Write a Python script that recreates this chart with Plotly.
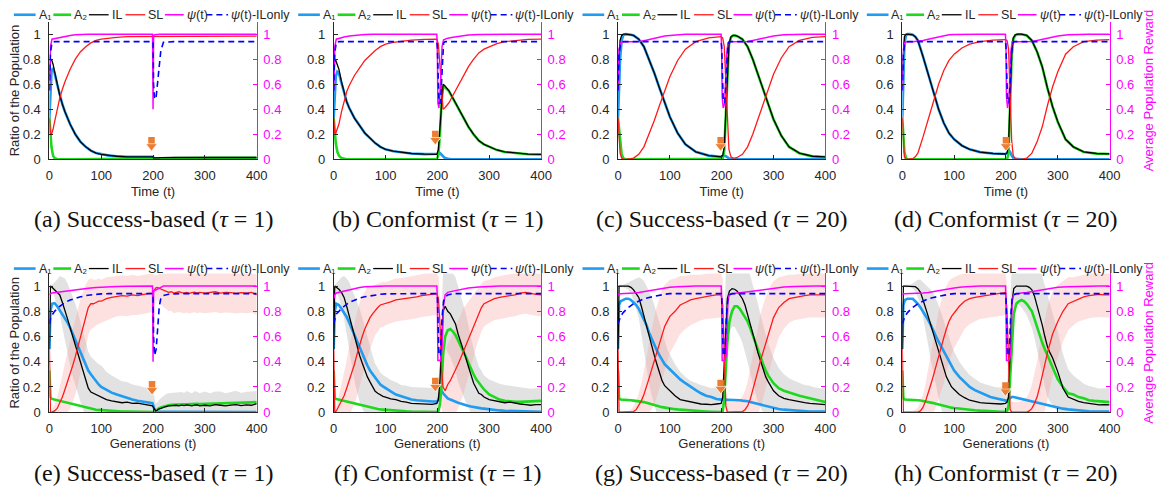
import plotly.graph_objects as go

# ---------------- data ----------------
T_TOP = [0, 2, 4, 7, 10, 15, 20, 25, 30, 40,
         50, 60, 70, 80, 90, 100, 115, 130, 150, 175,
         199, 202, 205, 208, 211, 214, 218, 222, 226, 230,
         240, 250, 260, 270, 280, 290, 300, 315, 330, 350, 375, 400]

T_PSI = [0, 2, 5, 10, 20, 30, 40, 50, 60, 75,
         90, 100, 115, 130, 150, 175, 199, 200, 201, 203,
         206, 209, 212, 215, 220, 230, 240, 250, 260, 280,
         300, 320, 340, 360, 380, 400]

T_BOT = [0, 2, 5, 10, 15, 20, 25, 30, 35, 40,
         45, 50, 55, 60, 65, 70, 75, 80, 85, 90,
         95, 100, 110, 120, 130, 140, 150, 160, 170, 180,
         190, 199, 202, 205, 208, 211, 215, 220, 225, 230,
         235, 240, 245, 250, 255, 260, 265, 270, 275, 280,
         285, 290, 300, 310, 320, 330, 340, 350, 360, 370,
         380, 390, 400]

# (a) Success-based tau=1, replicator
A1_A = [0.33, 0.58, 0.70, 0.73, 0.69, 0.60, 0.51, 0.44, 0.38, 0.28,
        0.20, 0.14, 0.10, 0.07, 0.05, 0.04, 0.03, 0.025, 0.02, 0.02,
        0.02, 0.01, 0.008, 0.007, 0.006, 0.005, 0.005, 0.004, 0.004, 0.004,
        0.004, 0.003, 0.003, 0.003, 0.003, 0.003, 0.002, 0.002, 0.002, 0.002, 0.002, 0.002]
A2_A = [0.33, 0.21, 0.10, 0.03, 0.01, 0.003, 0.0, 0.0, 0.0, 0.0,
        0.0, 0.0, 0.0, 0.0, 0.0, 0.0, 0.0, 0.0, 0.0, 0.0,
        0.0, 0.002, 0.003, 0.005, 0.006, 0.007, 0.008, 0.009, 0.01, 0.01,
        0.01, 0.011, 0.011, 0.012, 0.012, 0.012, 0.012, 0.012, 0.012, 0.012, 0.012, 0.012]
IL_A = [0.67, 0.79, 0.80, 0.76, 0.70, 0.60, 0.51, 0.44, 0.38, 0.28,
        0.20, 0.14, 0.10, 0.07, 0.05, 0.04, 0.03, 0.025, 0.02, 0.02,
        0.02, 0.012, 0.011, 0.012, 0.013, 0.014, 0.015, 0.015, 0.015, 0.015,
        0.015, 0.015, 0.015, 0.015, 0.015, 0.015, 0.015, 0.015, 0.015, 0.015, 0.015, 0.015]
SL_A = [0.33, 0.21, 0.20, 0.24, 0.30, 0.40, 0.49, 0.56, 0.62, 0.72,
        0.80, 0.86, 0.90, 0.93, 0.95, 0.96, 0.97, 0.975, 0.98, 0.98,
        0.98, 0.985, 0.985, 0.985, 0.985, 0.985, 0.985, 0.985, 0.985, 0.985,
        0.985, 0.985, 0.985, 0.985, 0.985, 0.985, 0.985, 0.985, 0.985, 0.985, 0.985, 0.985]
PSI_A = [0.55, 0.90, 0.96, 0.965, 0.975, 0.985, 0.99, 0.995, 0.998, 1.0,
         1.0, 1.0, 1.0, 1.0, 1.0, 1.0, 1.0, 0.40, 0.99, 0.995,
         0.998, 1.0, 1.0, 1.0, 1.0, 1.0, 1.0, 1.0, 1.0, 1.0,
         1.0, 1.0, 1.0, 1.0, 1.0, 1.0]
PSIIL_A = [0.55, 0.85, 0.935, 0.94, 0.94, 0.94, 0.94, 0.94, 0.94, 0.94,
           0.94, 0.94, 0.94, 0.94, 0.94, 0.94, 0.94, 0.94, 0.60, 0.48,
           0.50, 0.62, 0.76, 0.87, 0.935, 0.94, 0.94, 0.94, 0.94, 0.94,
           0.94, 0.94, 0.94, 0.94, 0.94, 0.94]

# (b) Conformist tau=1, replicator
A1_B = [0.33, 0.58, 0.66, 0.70, 0.69, 0.61, 0.53, 0.46, 0.41, 0.33,
        0.27, 0.21, 0.17, 0.13, 0.10, 0.08, 0.065, 0.055, 0.047, 0.042,
        0.04, 0.045, 0.05, 0.04, 0.025, 0.012, 0.006, 0.003, 0.002, 0.002,
        0.002, 0.001, 0.001, 0.001, 0.001, 0.001, 0.001, 0.001, 0.001, 0.001, 0.001, 0.001]
A2_B = [0.33, 0.21, 0.13, 0.06, 0.03, 0.01, 0.003, 0.0, 0.0, 0.0,
        0.0, 0.0, 0.0, 0.0, 0.0, 0.0, 0.0, 0.0, 0.0, 0.0,
        0.0, 0.035, 0.20, 0.46, 0.575, 0.578, 0.564, 0.547, 0.518, 0.488,
        0.408, 0.329, 0.259, 0.199, 0.149, 0.119, 0.099, 0.074, 0.059, 0.049, 0.041, 0.039]
IL_B = [0.67, 0.79, 0.79, 0.76, 0.72, 0.62, 0.53, 0.46, 0.41, 0.33,
        0.27, 0.21, 0.17, 0.13, 0.10, 0.08, 0.065, 0.055, 0.047, 0.042,
        0.04, 0.08, 0.25, 0.50, 0.60, 0.59, 0.57, 0.55, 0.52, 0.49,
        0.41, 0.33, 0.26, 0.20, 0.15, 0.12, 0.10, 0.075, 0.06, 0.05, 0.042, 0.04]
SL_B = [0.33, 0.21, 0.21, 0.24, 0.28, 0.38, 0.47, 0.54, 0.59, 0.67,
        0.73, 0.79, 0.83, 0.87, 0.90, 0.92, 0.935, 0.945, 0.953, 0.958,
        0.96, 0.92, 0.75, 0.50, 0.40, 0.41, 0.43, 0.45, 0.48, 0.51,
        0.59, 0.67, 0.74, 0.80, 0.85, 0.88, 0.90, 0.925, 0.94, 0.95, 0.958, 0.96]
PSI_B = [0.55, 0.90, 0.96, 0.968, 0.978, 0.985, 0.99, 0.994, 0.997, 0.999,
         1.0, 1.0, 1.0, 1.0, 1.0, 1.0, 1.0, 0.85, 0.45, 0.41,
         0.60, 0.90, 0.955, 0.962, 0.968, 0.975, 0.983, 0.99, 0.994, 0.998,
         1.0, 1.0, 1.0, 1.0, 1.0, 1.0]
PSIIL_B = [0.55, 0.85, 0.935, 0.94, 0.94, 0.94, 0.94, 0.94, 0.94, 0.94,
           0.94, 0.94, 0.94, 0.94, 0.94, 0.94, 0.94, 0.90, 0.70, 0.45,
           0.45, 0.75, 0.93, 0.94, 0.94, 0.94, 0.94, 0.94, 0.94, 0.94,
           0.94, 0.94, 0.94, 0.94, 0.94, 0.94]

# (c) Success-based tau=20, replicator
A1_C = [0.33, 0.60, 0.80, 0.95, 0.99, 1.0, 1.0, 0.995, 0.99, 0.96,
        0.90, 0.80, 0.69, 0.57, 0.45, 0.34, 0.21, 0.12, 0.06, 0.03,
        0.02, 0.025, 0.03, 0.025, 0.015, 0.008, 0.004, 0.002, 0.002, 0.001,
        0.001, 0.001, 0.001, 0.001, 0.001, 0.001, 0.001, 0.001, 0.001, 0.001, 0.001, 0.001]
A2_C = [0.33, 0.25, 0.15, 0.04, 0.01, 0.0, 0.0, 0.0, 0.0, 0.0,
        0.0, 0.0, 0.0, 0.0, 0.0, 0.0, 0.0, 0.0, 0.0, 0.0,
        0.0, 0.005, 0.07, 0.375, 0.735, 0.912, 0.976, 0.988, 0.988, 0.984,
        0.959, 0.899, 0.799, 0.679, 0.549, 0.429, 0.319, 0.189, 0.099, 0.049, 0.024, 0.019]
IL_C = [0.67, 0.85, 0.95, 0.99, 1.0, 1.0, 1.0, 0.995, 0.99, 0.96,
        0.90, 0.80, 0.69, 0.57, 0.45, 0.34, 0.21, 0.12, 0.06, 0.03,
        0.02, 0.03, 0.10, 0.40, 0.75, 0.92, 0.98, 0.99, 0.99, 0.985,
        0.96, 0.90, 0.80, 0.68, 0.55, 0.43, 0.32, 0.19, 0.10, 0.05, 0.025, 0.02]
SL_C = [0.33, 0.15, 0.05, 0.01, 0.0, 0.0, 0.0, 0.005, 0.01, 0.04,
        0.10, 0.20, 0.31, 0.43, 0.55, 0.66, 0.79, 0.88, 0.94, 0.97,
        0.98, 0.97, 0.90, 0.60, 0.25, 0.08, 0.02, 0.01, 0.01, 0.015,
        0.04, 0.10, 0.20, 0.32, 0.45, 0.57, 0.68, 0.81, 0.90, 0.95, 0.975, 0.98]
PSI_C = [0.55, 0.88, 0.93, 0.94, 0.94, 0.94, 0.942, 0.948, 0.958, 0.972,
         0.985, 0.99, 0.996, 0.999, 1.0, 1.0, 1.0, 0.85, 0.50, 0.41,
         0.45, 0.80, 0.93, 0.94, 0.94, 0.94, 0.94, 0.942, 0.95, 0.97,
         0.985, 0.995, 0.999, 1.0, 1.0, 1.0]
PSIIL_C = [0.55, 0.85, 0.93, 0.94, 0.94, 0.94, 0.94, 0.94, 0.94, 0.94,
           0.94, 0.94, 0.94, 0.94, 0.94, 0.94, 0.94, 0.90, 0.70, 0.47,
           0.45, 0.75, 0.92, 0.94, 0.94, 0.94, 0.94, 0.94, 0.94, 0.94,
           0.94, 0.94, 0.94, 0.94, 0.94, 0.94]

# (d) Conformist tau=20, replicator
A1_D = [0.33, 0.70, 0.92, 0.99, 1.0, 1.0, 0.995, 0.98, 0.95, 0.82,
        0.67, 0.54, 0.40, 0.29, 0.21, 0.16, 0.11, 0.08, 0.058, 0.047,
        0.043, 0.05, 0.075, 0.06, 0.03, 0.012, 0.004, 0.002, 0.001, 0.001,
        0.001, 0.001, 0.001, 0.001, 0.001, 0.001, 0.001, 0.001, 0.001, 0.001, 0.001, 0.001]
A2_D = [0.33, 0.18, 0.06, 0.01, 0.0, 0.0, 0.0, 0.0, 0.0, 0.0,
        0.0, 0.0, 0.0, 0.0, 0.0, 0.0, 0.0, 0.0, 0.0, 0.0,
        0.0, 0.0, 0.045, 0.39, 0.82, 0.958, 0.991, 0.998, 0.999, 0.999,
        0.989, 0.949, 0.859, 0.739, 0.569, 0.419, 0.299, 0.159, 0.099, 0.059, 0.046, 0.043]
IL_D = [0.67, 0.88, 0.98, 1.0, 1.0, 1.0, 0.995, 0.98, 0.95, 0.82,
        0.67, 0.54, 0.40, 0.29, 0.21, 0.16, 0.11, 0.08, 0.058, 0.047,
        0.043, 0.05, 0.12, 0.45, 0.85, 0.97, 0.995, 1.0, 1.0, 1.0,
        0.99, 0.95, 0.86, 0.74, 0.57, 0.42, 0.30, 0.16, 0.10, 0.06, 0.047, 0.044]
SL_D = [0.33, 0.12, 0.02, 0.0, 0.0, 0.0, 0.005, 0.02, 0.05, 0.18,
        0.33, 0.46, 0.60, 0.71, 0.79, 0.84, 0.89, 0.92, 0.94, 0.952,
        0.957, 0.95, 0.88, 0.55, 0.15, 0.03, 0.005, 0.0, 0.0, 0.0,
        0.01, 0.05, 0.14, 0.26, 0.43, 0.58, 0.70, 0.84, 0.90, 0.94, 0.953, 0.956]
PSI_D = [0.55, 0.88, 0.935, 0.94, 0.94, 0.942, 0.95, 0.96, 0.97, 0.985,
         0.995, 0.998, 1.0, 1.0, 1.0, 1.0, 1.0, 0.90, 0.50, 0.41,
         0.50, 0.85, 0.94, 0.94, 0.94, 0.94, 0.94, 0.942, 0.95, 0.968,
         0.985, 0.995, 1.0, 1.0, 1.0, 1.0]
PSIIL_D = [0.55, 0.85, 0.93, 0.94, 0.94, 0.94, 0.94, 0.94, 0.94, 0.94,
           0.94, 0.94, 0.94, 0.94, 0.94, 0.94, 0.94, 0.90, 0.70, 0.47,
           0.45, 0.75, 0.92, 0.94, 0.94, 0.94, 0.94, 0.94, 0.94, 0.94,
           0.94, 0.94, 0.94, 0.94, 0.94, 0.94]

# (e) Success-based tau=1, simulation
A1_E = [0.50, 0.80, 0.86, 0.865, 0.84, 0.81, 0.78, 0.75, 0.71, 0.67,
        0.62, 0.57, 0.52, 0.47, 0.42, 0.37, 0.33, 0.30, 0.27, 0.24,
        0.22, 0.20, 0.175, 0.155, 0.14, 0.125, 0.115, 0.10, 0.09, 0.085,
        0.078, 0.072, 0.03, 0.01, 0.005, 0.004, 0.004, 0.003, 0.003, 0.003,
        0.003, 0.003, 0.003, 0.003, 0.002, 0.002, 0.002, 0.002, 0.002, 0.002,
        0.002, 0.002, 0.002, 0.002, 0.002, 0.002, 0.002, 0.002, 0.002, 0.002,
        0.002, 0.002, 0.002]
A2_E = [0.33, 0.12, 0.105, 0.10, 0.095, 0.09, 0.085, 0.08, 0.075, 0.068,
        0.062, 0.055, 0.05, 0.045, 0.04, 0.035, 0.03, 0.027, 0.024, 0.02,
        0.018, 0.016, 0.012, 0.01, 0.008, 0.006, 0.005, 0.004, 0.003, 0.002,
        0.002, 0.001, 0.002, 0.008, 0.02, 0.03, 0.038, 0.045, 0.05, 0.055,
        0.058, 0.06, 0.062, 0.062, 0.063, 0.062, 0.063, 0.065, 0.064, 0.065,
        0.066, 0.065, 0.066, 0.068, 0.067, 0.068, 0.07, 0.07, 0.072, 0.07,
        0.075, 0.078, 0.08]
IL_E = [0.50, 1.0, 0.99, 0.97, 0.95, 0.93, 0.87, 0.81, 0.74, 0.67,
        0.60, 0.54, 0.47, 0.40, 0.33, 0.26, 0.19, 0.16, 0.15, 0.14,
        0.125, 0.12, 0.10, 0.09, 0.085, 0.075, 0.08, 0.07, 0.072, 0.065,
        0.06, 0.05, 0.03, 0.01, 0.015, 0.025, 0.03, 0.04, 0.045, 0.05,
        0.052, 0.048, 0.055, 0.05, 0.056, 0.052, 0.058, 0.054, 0.05, 0.056,
        0.058, 0.05, 0.055, 0.05, 0.06, 0.055, 0.05, 0.056, 0.06, 0.052,
        0.058, 0.055, 0.068]
SL_E = [0.50, 0.0, 0.0, 0.01, 0.03, 0.07, 0.12, 0.18, 0.24, 0.30,
        0.37, 0.44, 0.52, 0.60, 0.68, 0.76, 0.83, 0.86, 0.86, 0.87,
        0.88, 0.88, 0.90, 0.91, 0.92, 0.925, 0.92, 0.93, 0.925, 0.935,
        0.94, 0.945, 0.97, 0.985, 0.99, 0.985, 0.975, 0.965, 0.96, 0.95,
        0.955, 0.945, 0.95, 0.955, 0.948, 0.945, 0.95, 0.942, 0.948, 0.952,
        0.945, 0.95, 0.945, 0.948, 0.955, 0.945, 0.95, 0.948, 0.942, 0.948,
        0.944, 0.95, 0.93]
SD_IL_E = [0.0, 0.01, 0.02, 0.06, 0.10, 0.15, 0.20, 0.25, 0.28, 0.30,
           0.32, 0.32, 0.32, 0.32, 0.31, 0.30, 0.29, 0.28, 0.27, 0.26,
           0.255, 0.25, 0.22, 0.20, 0.18, 0.17, 0.16, 0.15, 0.14, 0.135,
           0.13, 0.13, 0.10, 0.06, 0.06, 0.07, 0.08, 0.09, 0.10, 0.10,
           0.10, 0.105, 0.10, 0.11, 0.105, 0.10, 0.11, 0.105, 0.10, 0.11,
           0.105, 0.10, 0.11, 0.10, 0.105, 0.11, 0.10, 0.105, 0.11, 0.10,
           0.105, 0.11, 0.10]
SD_SL_E = [0.0, 0.01, 0.02, 0.05, 0.09, 0.13, 0.17, 0.21, 0.24, 0.27,
           0.29, 0.30, 0.30, 0.30, 0.28, 0.25, 0.22, 0.20, 0.19, 0.18,
           0.18, 0.17, 0.17, 0.165, 0.16, 0.16, 0.16, 0.16, 0.155, 0.155,
           0.155, 0.15, 0.12, 0.10, 0.10, 0.11, 0.12, 0.13, 0.14, 0.15,
           0.15, 0.16, 0.16, 0.16, 0.16, 0.16, 0.16, 0.16, 0.16, 0.16,
           0.16, 0.16, 0.16, 0.16, 0.16, 0.16, 0.16, 0.16, 0.16, 0.16,
           0.16, 0.16, 0.16]
PSI_E = [0.93, 0.94, 0.945, 0.948, 0.955, 0.96, 0.966, 0.972, 0.977, 0.983,
         0.988, 0.991, 0.994, 0.997, 0.999, 1.0, 1.0, 0.40, 0.96, 0.965,
         0.97, 0.975, 0.98, 0.99, 1.0, 1.0, 1.0, 1.0, 1.0, 1.0,
         1.0, 1.0, 1.0, 1.0, 1.0, 1.0]
PSIIL_E = [0.70, 0.74, 0.77, 0.80, 0.84, 0.87, 0.89, 0.905, 0.915, 0.928,
           0.935, 0.938, 0.94, 0.94, 0.94, 0.94, 0.94, 0.94, 0.60, 0.45,
           0.50, 0.70, 0.84, 0.90, 0.925, 0.935, 0.94, 0.94, 0.94, 0.94,
           0.94, 0.94, 0.94, 0.94, 0.94, 0.94]

# (f) Conformist tau=1, simulation
A1_F = [0.50, 0.80, 0.86, 0.85, 0.82, 0.79, 0.755, 0.71, 0.66, 0.61,
        0.56, 0.51, 0.46, 0.41, 0.37, 0.33, 0.30, 0.27, 0.24, 0.22,
        0.205, 0.19, 0.165, 0.14, 0.125, 0.11, 0.10, 0.095, 0.09, 0.085,
        0.085, 0.085, 0.10, 0.15, 0.17, 0.15, 0.13, 0.11, 0.10, 0.09,
        0.08, 0.075, 0.068, 0.06, 0.055, 0.05, 0.045, 0.04, 0.037, 0.034,
        0.03, 0.028, 0.022, 0.018, 0.014, 0.011, 0.009, 0.007, 0.005, 0.004,
        0.003, 0.003, 0.003]
A2_F = [0.33, 0.11, 0.105, 0.10, 0.095, 0.09, 0.085, 0.08, 0.075, 0.07,
        0.063, 0.055, 0.05, 0.045, 0.04, 0.036, 0.032, 0.028, 0.025, 0.022,
        0.02, 0.018, 0.014, 0.012, 0.009, 0.007, 0.005, 0.004, 0.003, 0.002,
        0.002, 0.002, 0.01, 0.06, 0.20, 0.45, 0.60, 0.65, 0.66, 0.64,
        0.61, 0.57, 0.53, 0.49, 0.44, 0.39, 0.34, 0.30, 0.26, 0.23,
        0.20, 0.18, 0.14, 0.12, 0.10, 0.09, 0.085, 0.083, 0.082, 0.085,
        0.087, 0.09, 0.09]
IL_F = [0.50, 1.0, 0.99, 0.975, 0.95, 0.91, 0.84, 0.76, 0.67, 0.59,
        0.52, 0.45, 0.39, 0.33, 0.28, 0.24, 0.20, 0.165, 0.15, 0.135,
        0.125, 0.12, 0.105, 0.10, 0.085, 0.08, 0.07, 0.068, 0.065, 0.06,
        0.062, 0.07, 0.10, 0.25, 0.60, 0.80, 0.84, 0.80, 0.78, 0.74,
        0.70, 0.62, 0.56, 0.50, 0.43, 0.36, 0.29, 0.23, 0.19, 0.15,
        0.14, 0.12, 0.10, 0.09, 0.085, 0.075, 0.08, 0.07, 0.065, 0.06,
        0.055, 0.06, 0.06]
SL_F = [0.50, 0.0, 0.01, 0.05, 0.09, 0.13, 0.19, 0.25, 0.32, 0.38,
        0.46, 0.54, 0.60, 0.66, 0.71, 0.75, 0.78, 0.81, 0.83, 0.85,
        0.855, 0.86, 0.875, 0.89, 0.895, 0.90, 0.91, 0.915, 0.925, 0.93,
        0.935, 0.94, 0.90, 0.70, 0.35, 0.20, 0.17, 0.22, 0.25, 0.29,
        0.33, 0.38, 0.43, 0.48, 0.53, 0.58, 0.64, 0.69, 0.74, 0.79,
        0.83, 0.86, 0.88, 0.90, 0.91, 0.92, 0.925, 0.93, 0.945, 0.95,
        0.94, 0.935, 0.93]
SD_IL_F = [0.0, 0.01, 0.03, 0.07, 0.12, 0.17, 0.22, 0.27, 0.31, 0.34,
           0.36, 0.37, 0.36, 0.34, 0.31, 0.28, 0.25, 0.22, 0.20, 0.18,
           0.17, 0.16, 0.15, 0.14, 0.13, 0.13, 0.13, 0.13, 0.13, 0.13,
           0.13, 0.13, 0.15, 0.20, 0.25, 0.30, 0.32, 0.33, 0.34, 0.36,
           0.37, 0.38, 0.38, 0.37, 0.35, 0.33, 0.30, 0.27, 0.24, 0.21,
           0.19, 0.17, 0.16, 0.15, 0.14, 0.14, 0.13, 0.13, 0.13, 0.13,
           0.13, 0.13, 0.13]
SD_SL_F = [0.0, 0.01, 0.03, 0.08, 0.12, 0.17, 0.22, 0.27, 0.30, 0.32,
           0.33, 0.33, 0.32, 0.30, 0.28, 0.25, 0.22, 0.20, 0.19, 0.18,
           0.18, 0.17, 0.17, 0.17, 0.17, 0.17, 0.17, 0.17, 0.17, 0.17,
           0.17, 0.17, 0.18, 0.20, 0.25, 0.28, 0.30, 0.32, 0.33, 0.34,
           0.35, 0.35, 0.35, 0.34, 0.32, 0.30, 0.27, 0.25, 0.22, 0.20,
           0.19, 0.18, 0.17, 0.17, 0.17, 0.17, 0.17, 0.17, 0.17, 0.17,
           0.17, 0.17, 0.17]
PSI_F = [0.90, 0.93, 0.945, 0.95, 0.96, 0.97, 0.98, 0.988, 0.994, 0.998,
         1.0, 1.0, 1.0, 1.0, 1.0, 1.0, 1.0, 0.90, 0.41, 0.41,
         0.41, 0.50, 0.85, 0.93, 0.95, 0.96, 0.97, 0.978, 0.985, 0.993,
         0.998, 1.0, 1.0, 1.0, 1.0, 1.0]
PSIIL_F = [0.70, 0.74, 0.78, 0.80, 0.84, 0.87, 0.89, 0.905, 0.915, 0.928,
           0.935, 0.938, 0.94, 0.94, 0.94, 0.94, 0.94, 0.92, 0.70, 0.45,
           0.45, 0.75, 0.88, 0.91, 0.93, 0.94, 0.94, 0.94, 0.94, 0.94,
           0.94, 0.94, 0.94, 0.94, 0.94, 0.94]

# (g) Success-based tau=20, simulation
A1_G = [0.50, 0.85, 0.88, 0.89, 0.90, 0.90, 0.89, 0.87, 0.85, 0.82,
        0.78, 0.74, 0.69, 0.63, 0.58, 0.53, 0.49, 0.45, 0.41, 0.38,
        0.36, 0.34, 0.30, 0.26, 0.23, 0.20, 0.175, 0.15, 0.13, 0.12,
        0.105, 0.10, 0.10, 0.10, 0.10, 0.10, 0.10, 0.10, 0.098, 0.097,
        0.095, 0.092, 0.09, 0.087, 0.08, 0.075, 0.068, 0.06, 0.055, 0.05,
        0.045, 0.04, 0.032, 0.025, 0.02, 0.016, 0.012, 0.01, 0.008, 0.006,
        0.005, 0.005, 0.005]
A2_G = [0.33, 0.11, 0.10, 0.10, 0.10, 0.098, 0.095, 0.092, 0.09, 0.087,
        0.084, 0.08, 0.075, 0.068, 0.062, 0.057, 0.05, 0.045, 0.04, 0.036,
        0.033, 0.03, 0.024, 0.02, 0.016, 0.012, 0.01, 0.008, 0.006, 0.004,
        0.003, 0.002, 0.01, 0.10, 0.35, 0.55, 0.72, 0.80, 0.84, 0.84,
        0.82, 0.79, 0.76, 0.72, 0.67, 0.61, 0.55, 0.49, 0.44, 0.38,
        0.33, 0.29, 0.23, 0.19, 0.17, 0.155, 0.145, 0.13, 0.12, 0.11,
        0.095, 0.085, 0.08]
IL_G = [0.50, 1.0, 1.0, 1.0, 1.0, 1.0, 0.99, 0.97, 0.94, 0.91,
        0.84, 0.76, 0.67, 0.59, 0.52, 0.45, 0.38, 0.31, 0.25, 0.21,
        0.19, 0.17, 0.13, 0.10, 0.09, 0.08, 0.07, 0.065, 0.063, 0.06,
        0.065, 0.07, 0.12, 0.40, 0.75, 0.90, 0.96, 0.98, 0.975, 0.96,
        0.93, 0.90, 0.85, 0.78, 0.70, 0.62, 0.55, 0.47, 0.40, 0.34,
        0.28, 0.24, 0.17, 0.13, 0.11, 0.10, 0.09, 0.08, 0.075, 0.07,
        0.065, 0.06, 0.06]
SL_G = [0.50, 0.0, 0.0, 0.0, 0.0, 0.0, 0.0, 0.005, 0.02, 0.05,
        0.09, 0.14, 0.20, 0.27, 0.34, 0.41, 0.48, 0.55, 0.62, 0.68,
        0.72, 0.76, 0.80, 0.85, 0.87, 0.89, 0.90, 0.91, 0.92, 0.925,
        0.93, 0.93, 0.85, 0.40, 0.05, 0.0, 0.0, 0.0, 0.0, 0.0,
        0.0, 0.005, 0.02, 0.05, 0.10, 0.17, 0.25, 0.33, 0.41, 0.48,
        0.55, 0.63, 0.75, 0.83, 0.87, 0.90, 0.91, 0.92, 0.925, 0.93,
        0.93, 0.925, 0.93]
SD_IL_G = [0.0, 0.005, 0.01, 0.01, 0.02, 0.03, 0.05, 0.08, 0.12, 0.16,
           0.22, 0.28, 0.33, 0.37, 0.39, 0.40, 0.40, 0.39, 0.37, 0.34,
           0.31, 0.29, 0.25, 0.22, 0.19, 0.17, 0.16, 0.15, 0.14, 0.13,
           0.13, 0.13, 0.15, 0.30, 0.35, 0.35, 0.33, 0.30, 0.30, 0.32,
           0.33, 0.35, 0.37, 0.38, 0.39, 0.40, 0.40, 0.39, 0.37, 0.35,
           0.33, 0.30, 0.26, 0.22, 0.19, 0.17, 0.16, 0.15, 0.14, 0.14,
           0.13, 0.13, 0.13]
SD_SL_G = [0.0, 0.005, 0.005, 0.005, 0.01, 0.01, 0.02, 0.04, 0.07, 0.10,
           0.14, 0.18, 0.23, 0.28, 0.32, 0.35, 0.36, 0.36, 0.35, 0.33,
           0.31, 0.29, 0.26, 0.23, 0.21, 0.20, 0.19, 0.18, 0.18, 0.18,
           0.18, 0.18, 0.20, 0.25, 0.15, 0.10, 0.08, 0.08, 0.08, 0.09,
           0.10, 0.12, 0.15, 0.19, 0.24, 0.28, 0.32, 0.35, 0.37, 0.37,
           0.36, 0.34, 0.29, 0.24, 0.21, 0.19, 0.18, 0.18, 0.18, 0.18,
           0.18, 0.18, 0.18]
PSI_G = [0.93, 0.94, 0.94, 0.94, 0.942, 0.945, 0.95, 0.957, 0.965, 0.975,
         0.985, 0.99, 0.995, 0.998, 1.0, 1.0, 1.0, 0.90, 0.41, 0.41,
         0.41, 0.45, 0.88, 0.935, 0.94, 0.945, 0.95, 0.955, 0.962, 0.975,
         0.985, 0.992, 0.997, 1.0, 1.0, 1.0]
PSIIL_G = [0.70, 0.73, 0.76, 0.79, 0.83, 0.86, 0.88, 0.90, 0.91, 0.925,
           0.935, 0.94, 0.94, 0.94, 0.94, 0.94, 0.94, 0.92, 0.70, 0.45,
           0.45, 0.75, 0.90, 0.93, 0.94, 0.94, 0.94, 0.94, 0.94, 0.94,
           0.94, 0.94, 0.94, 0.94, 0.94, 0.94]

# (h) Conformist tau=20, simulation
A1_H = [0.50, 0.85, 0.89, 0.90, 0.90, 0.90, 0.88, 0.86, 0.83, 0.80,
        0.77, 0.73, 0.69, 0.64, 0.60, 0.56, 0.52, 0.48, 0.44, 0.40,
        0.36, 0.33, 0.28, 0.24, 0.20, 0.175, 0.155, 0.135, 0.12, 0.11,
        0.10, 0.09, 0.09, 0.10, 0.11, 0.12, 0.12, 0.115, 0.11, 0.11,
        0.105, 0.10, 0.095, 0.09, 0.085, 0.08, 0.072, 0.066, 0.06, 0.055,
        0.05, 0.045, 0.035, 0.028, 0.022, 0.017, 0.013, 0.01, 0.008, 0.006,
        0.005, 0.005, 0.005]
A2_H = [0.33, 0.11, 0.10, 0.10, 0.10, 0.10, 0.098, 0.095, 0.093, 0.09,
        0.087, 0.083, 0.078, 0.072, 0.066, 0.06, 0.054, 0.049, 0.045, 0.04,
        0.036, 0.033, 0.027, 0.022, 0.018, 0.015, 0.012, 0.009, 0.007, 0.005,
        0.004, 0.005, 0.01, 0.05, 0.25, 0.50, 0.78, 0.86, 0.88, 0.89,
        0.88, 0.86, 0.83, 0.80, 0.74, 0.67, 0.61, 0.55, 0.50, 0.45,
        0.41, 0.36, 0.26, 0.20, 0.15, 0.14, 0.12, 0.11, 0.095, 0.09,
        0.085, 0.082, 0.08]
IL_H = [0.50, 1.0, 1.0, 1.0, 1.0, 1.0, 0.995, 0.98, 0.95, 0.89,
        0.83, 0.76, 0.69, 0.62, 0.55, 0.48, 0.41, 0.34, 0.28, 0.24,
        0.20, 0.18, 0.14, 0.115, 0.095, 0.085, 0.075, 0.072, 0.07, 0.068,
        0.065, 0.07, 0.08, 0.12, 0.50, 0.85, 0.98, 1.0, 1.0, 1.0,
        1.0, 1.0, 0.99, 0.97, 0.92, 0.85, 0.77, 0.69, 0.60, 0.52,
        0.47, 0.43, 0.32, 0.19, 0.12, 0.10, 0.085, 0.075, 0.068, 0.06,
        0.058, 0.06, 0.058]
SL_H = [0.50, 0.0, 0.0, 0.0, 0.0, 0.0, 0.0, 0.0, 0.01, 0.04,
        0.09, 0.15, 0.22, 0.29, 0.37, 0.45, 0.52, 0.59, 0.66, 0.72,
        0.76, 0.79, 0.84, 0.88, 0.90, 0.91, 0.92, 0.925, 0.93, 0.935,
        0.94, 0.95, 0.80, 0.30, 0.02, 0.0, 0.0, 0.0, 0.0, 0.0,
        0.0, 0.0, 0.01, 0.03, 0.07, 0.12, 0.20, 0.28, 0.38, 0.47,
        0.54, 0.62, 0.72, 0.80, 0.86, 0.88, 0.90, 0.915, 0.925, 0.93,
        0.935, 0.93, 0.93]
SD_IL_H = [0.0, 0.005, 0.01, 0.01, 0.01, 0.02, 0.04, 0.07, 0.10, 0.14,
           0.18, 0.23, 0.28, 0.32, 0.35, 0.37, 0.38, 0.38, 0.37, 0.35,
           0.33, 0.30, 0.26, 0.23, 0.20, 0.18, 0.16, 0.15, 0.14, 0.13,
           0.13, 0.13, 0.15, 0.25, 0.35, 0.30, 0.20, 0.15, 0.15, 0.17,
           0.20, 0.23, 0.27, 0.30, 0.33, 0.36, 0.38, 0.39, 0.40, 0.40,
           0.39, 0.37, 0.32, 0.27, 0.22, 0.19, 0.17, 0.15, 0.14, 0.14,
           0.13, 0.13, 0.13]
SD_SL_H = [0.0, 0.005, 0.005, 0.005, 0.01, 0.01, 0.02, 0.04, 0.07, 0.10,
           0.14, 0.19, 0.24, 0.29, 0.33, 0.35, 0.36, 0.36, 0.34, 0.32,
           0.30, 0.28, 0.25, 0.22, 0.20, 0.19, 0.18, 0.18, 0.18, 0.18,
           0.18, 0.18, 0.20, 0.25, 0.12, 0.08, 0.08, 0.08, 0.08, 0.09,
           0.10, 0.12, 0.15, 0.19, 0.24, 0.28, 0.32, 0.35, 0.37, 0.37,
           0.36, 0.34, 0.29, 0.24, 0.21, 0.19, 0.18, 0.18, 0.18, 0.18,
           0.18, 0.18, 0.18]
PSI_H = [0.93, 0.94, 0.94, 0.94, 0.94, 0.942, 0.945, 0.95, 0.958, 0.97,
         0.98, 0.985, 0.992, 0.997, 1.0, 1.0, 1.0, 0.90, 0.41, 0.41,
         0.41, 0.45, 0.88, 0.935, 0.94, 0.945, 0.95, 0.957, 0.965, 0.98,
         0.99, 0.995, 0.998, 1.0, 1.0, 1.0]
PSIIL_H = [0.70, 0.73, 0.76, 0.79, 0.83, 0.86, 0.88, 0.90, 0.91, 0.925,
           0.935, 0.94, 0.94, 0.94, 0.94, 0.94, 0.94, 0.92, 0.70, 0.45,
           0.45, 0.75, 0.90, 0.93, 0.94, 0.94, 0.94, 0.94, 0.94, 0.94,
           0.94, 0.94, 0.94, 0.94, 0.94, 0.94]

# environment-change markers (orange arrows): time and tip height
ARROW_T = [197, 196, 198, 200, 198, 196, 198, 199]
ARROW_TIP = [0.07, 0.12, 0.07, 0.07, 0.14, 0.165, 0.15, 0.13]

CAPTIONS = ["(a) Success-based (<i>τ</i> = 1)", "(b) Conformist (<i>τ</i> = 1)",
            "(c) Success-based (<i>τ</i> = 20)", "(d) Conformist (<i>τ</i> = 20)",
            "(e) Success-based (<i>τ</i> = 1)", "(f) Conformist (<i>τ</i> = 1)",
            "(g) Success-based (<i>τ</i> = 20)", "(h) Conformist (<i>τ</i> = 20)"]
X_TITLES = ["Time (t)", "Generations (t)"]
Y_TICKS = [0, 0.2, 0.4, 0.6, 0.8, 1]
Y_TICKTEXT = ["0", "0.2", "0.4", "0.6", "0.8", "1"]
X_TICKS = [0, 100, 200, 300, 400]
LEGEND_NAMES = ["A₁", "A₂", "IL", "SL", "<i>ψ</i>(t)", "<i>ψ</i>(t)-ILonly"]

# ---------------- style ----------------
FIG_W, FIG_H = 1169, 492
FONT = "Liberation Sans, Arial, Helvetica, sans-serif"
SERIF = "Liberation Serif, Times New Roman, serif"
TXT = "#262626"
C_A1, C_A2, C_IL, C_SL = "#1f9bf0", "#1ed81e", "#000000", "#ff1a1a"
C_PSI, C_PSIIL, C_ARROW = "#ff00ff", "#0000ff", "#ed7d31"
BAND_IL = "rgba(185,185,185,0.42)"
BAND_SL = "rgba(250,165,165,0.33)"
STYLES = [  # color, width, dash
    (C_A1, 2.6, "solid"), (C_A2, 2.6, "solid"), (C_IL, 1.3, "solid"),
    (C_SL, 1.3, "solid"), (C_PSI, 1.5, "solid"), (C_PSIIL, 1.6, "6px,4px")]
# legend key geometry relative to panel left edge (px): line start, line end
LEG_KEYS = [(-36, -14), (4, 22), (40, 60), (77, 97), (117, 136), (159, 181)]

PANEL_LEFT = [46, 334, 622, 910]
PANEL_W = 210
ROW_TOP = [22, 278]
ROW_BOT = [162, 419]
LEGEND_Y = [15, 273]
CAPTION_Y = [223, 481]
PX_PER_UNIT = 127.5   # vertical pixels per data unit (for the arrow glyph parts)

panels = [
    dict(t=T_TOP, a1=A1_A, a2=A2_A, il=IL_A, sl=SL_A, psi=PSI_A, psiil=PSIIL_A),
    dict(t=T_TOP, a1=A1_B, a2=A2_B, il=IL_B, sl=SL_B, psi=PSI_B, psiil=PSIIL_B),
    dict(t=T_TOP, a1=A1_C, a2=A2_C, il=IL_C, sl=SL_C, psi=PSI_C, psiil=PSIIL_C),
    dict(t=T_TOP, a1=A1_D, a2=A2_D, il=IL_D, sl=SL_D, psi=PSI_D, psiil=PSIIL_D),
    dict(t=T_BOT, a1=A1_E, a2=A2_E, il=IL_E, sl=SL_E, psi=PSI_E, psiil=PSIIL_E, sdil=SD_IL_E, sdsl=SD_SL_E),
    dict(t=T_BOT, a1=A1_F, a2=A2_F, il=IL_F, sl=SL_F, psi=PSI_F, psiil=PSIIL_F, sdil=SD_IL_F, sdsl=SD_SL_F),
    dict(t=T_BOT, a1=A1_G, a2=A2_G, il=IL_G, sl=SL_G, psi=PSI_G, psiil=PSIIL_G, sdil=SD_IL_G, sdsl=SD_SL_G),
    dict(t=T_BOT, a1=A1_H, a2=A2_H, il=IL_H, sl=SL_H, psi=PSI_H, psiil=PSIIL_H, sdil=SD_IL_H, sdsl=SD_SL_H),
]

fig = go.Figure()
layout = {}
annotations = []
shapes = []
axis_font = dict(family=FONT, size=13, color=TXT)

for p, pn in enumerate(panels):
    row, col = divmod(p, 4)
    xn = "" if p == 0 else str(p + 1)
    yln = "" if p == 0 else str(2 * p + 1)
    yrn = str(2 * p + 2)
    xref, ylref, yrref = "x" + xn, "y" + yln, "y" + yrn
    L = PANEL_LEFT[col]
    dom_x = [L / FIG_W, (L + PANEL_W) / FIG_W]
    dom_y = [1 - ROW_BOT[row] / FIG_H, 1 - ROW_TOP[row] / FIG_H]
    t = pn["t"]

    # std bands
    if "sdil" in pn:
        for mean, sd, col_band in ((pn["il"], pn["sdil"], BAND_IL), (pn["sl"], pn["sdsl"], BAND_SL)):
            fig.add_trace(go.Scatter(x=t, y=[m + s for m, s in zip(mean, sd)], mode="lines",
                                     line=dict(width=0, color=col_band), xaxis=xref, yaxis=ylref,
                                     showlegend=False, hoverinfo="skip"))
            fig.add_trace(go.Scatter(x=t, y=[m - s for m, s in zip(mean, sd)], mode="lines",
                                     line=dict(width=0, color=col_band), fill="tonexty",
                                     fillcolor=col_band, xaxis=xref, yaxis=ylref,
                                     showlegend=False, hoverinfo="skip"))

    series = [(t, pn["a1"], ylref), (t, pn["a2"], ylref), (t, pn["il"], ylref),
              (t, pn["sl"], ylref), (T_PSI, pn["psi"], yrref), (T_PSI, pn["psiil"], yrref)]
    for k, (xs, ys, yax) in enumerate(series):
        c, w, d = STYLES[k]
        fig.add_trace(go.Scatter(x=xs, y=ys, mode="lines", name=LEGEND_NAMES[k],
                                 line=dict(color=c, width=w, dash=d),
                                 xaxis=xref, yaxis=yax, showlegend=False))

    # orange block arrow marking the environment change (head + shaft)
    tip = ARROW_TIP[p]
    fig.add_trace(go.Scatter(x=[ARROW_T[p]], y=[tip + 4.5 / PX_PER_UNIT], mode="markers",
                             marker=dict(symbol="triangle-down", size=10, color=C_ARROW,
                                         line=dict(color="white", width=0.8)),
                             xaxis=xref, yaxis=yrref, showlegend=False, hoverinfo="skip"))
    fig.add_trace(go.Scatter(x=[ARROW_T[p]], y=[tip + 10.5 / PX_PER_UNIT], mode="markers",
                             marker=dict(symbol="square", size=6.5, color=C_ARROW,
                                         line=dict(color=C_ARROW, width=0)),
                             xaxis=xref, yaxis=yrref, showlegend=False, hoverinfo="skip"))

    xaxis = dict(
        domain=dom_x, anchor=ylref, range=[0, 400], tickvals=X_TICKS,
        ticks="inside", ticklen=4, tickcolor=TXT, showline=True, linecolor=TXT,
        linewidth=1, showgrid=False, zeroline=False, tickfont=axis_font,
        ticklabelstandoff=4,
        title=dict(text=X_TITLES[row], font=axis_font, standoff=4))
    yleft = dict(
        domain=dom_y, anchor=xref, range=[0, 1.1], tickvals=Y_TICKS, ticktext=Y_TICKTEXT,
        ticks="inside", ticklen=4, tickcolor=TXT, showline=True, linecolor=TXT,
        linewidth=1, showgrid=False, zeroline=False, tickfont=axis_font,
        ticklabelstandoff=5)
    if col == 0:
        yleft["title"] = dict(text="Ratio of the Population", font=axis_font, standoff=0)
    yright = dict(
        overlaying=ylref, side="right", anchor=xref, range=[0, 1.1],
        tickvals=Y_TICKS, ticktext=Y_TICKTEXT, ticks="inside", ticklen=4,
        tickcolor=C_PSI, showline=True, linecolor=C_PSI, linewidth=1,
        showgrid=False, zeroline=False,
        tickfont=dict(family=FONT, size=13, color=C_PSI), ticklabelstandoff=3)
    if col == 3:
        yright["title"] = dict(text="Average Population Reward",
                               font=dict(family=FONT, size=13, color=C_PSI), standoff=10)
    layout["xaxis" + xn] = xaxis
    layout["yaxis" + yln] = yleft
    layout["yaxis" + yrn] = yright

    # legend (manual, one row above each panel)
    ly = 1 - LEGEND_Y[row] / FIG_H
    for k, (a, b) in enumerate(LEG_KEYS):
        c, w, d = STYLES[k]
        shapes.append(dict(type="line", xref="paper", yref="paper",
                           x0=(L + a) / FIG_W, x1=(L + b) / FIG_W, y0=ly, y1=ly,
                           line=dict(color=c, width=w, dash=d)))
        annotations.append(dict(text=LEGEND_NAMES[k], xref="paper", yref="paper",
                                x=(L + b + 1) / FIG_W, y=ly, xanchor="left", yanchor="middle",
                                showarrow=False, font=dict(family=FONT, size=12.5, color=TXT)))

    # caption
    annotations.append(dict(text=CAPTIONS[p], xref="paper", yref="paper",
                            x=(L + PANEL_W / 2) / FIG_W, y=1 - CAPTION_Y[row] / FIG_H,
                            xanchor="center", yanchor="middle", showarrow=False,
                            font=dict(family=SERIF, size=24, color="#111111")))

fig.update_layout(
    width=FIG_W, height=FIG_H, margin=dict(l=0, r=0, t=0, b=0),
    paper_bgcolor="white", plot_bgcolor="white",
    font=dict(family=FONT, size=13, color=TXT),
    showlegend=False, annotations=annotations, shapes=shapes, **layout)

fig.write_html("out.html")
